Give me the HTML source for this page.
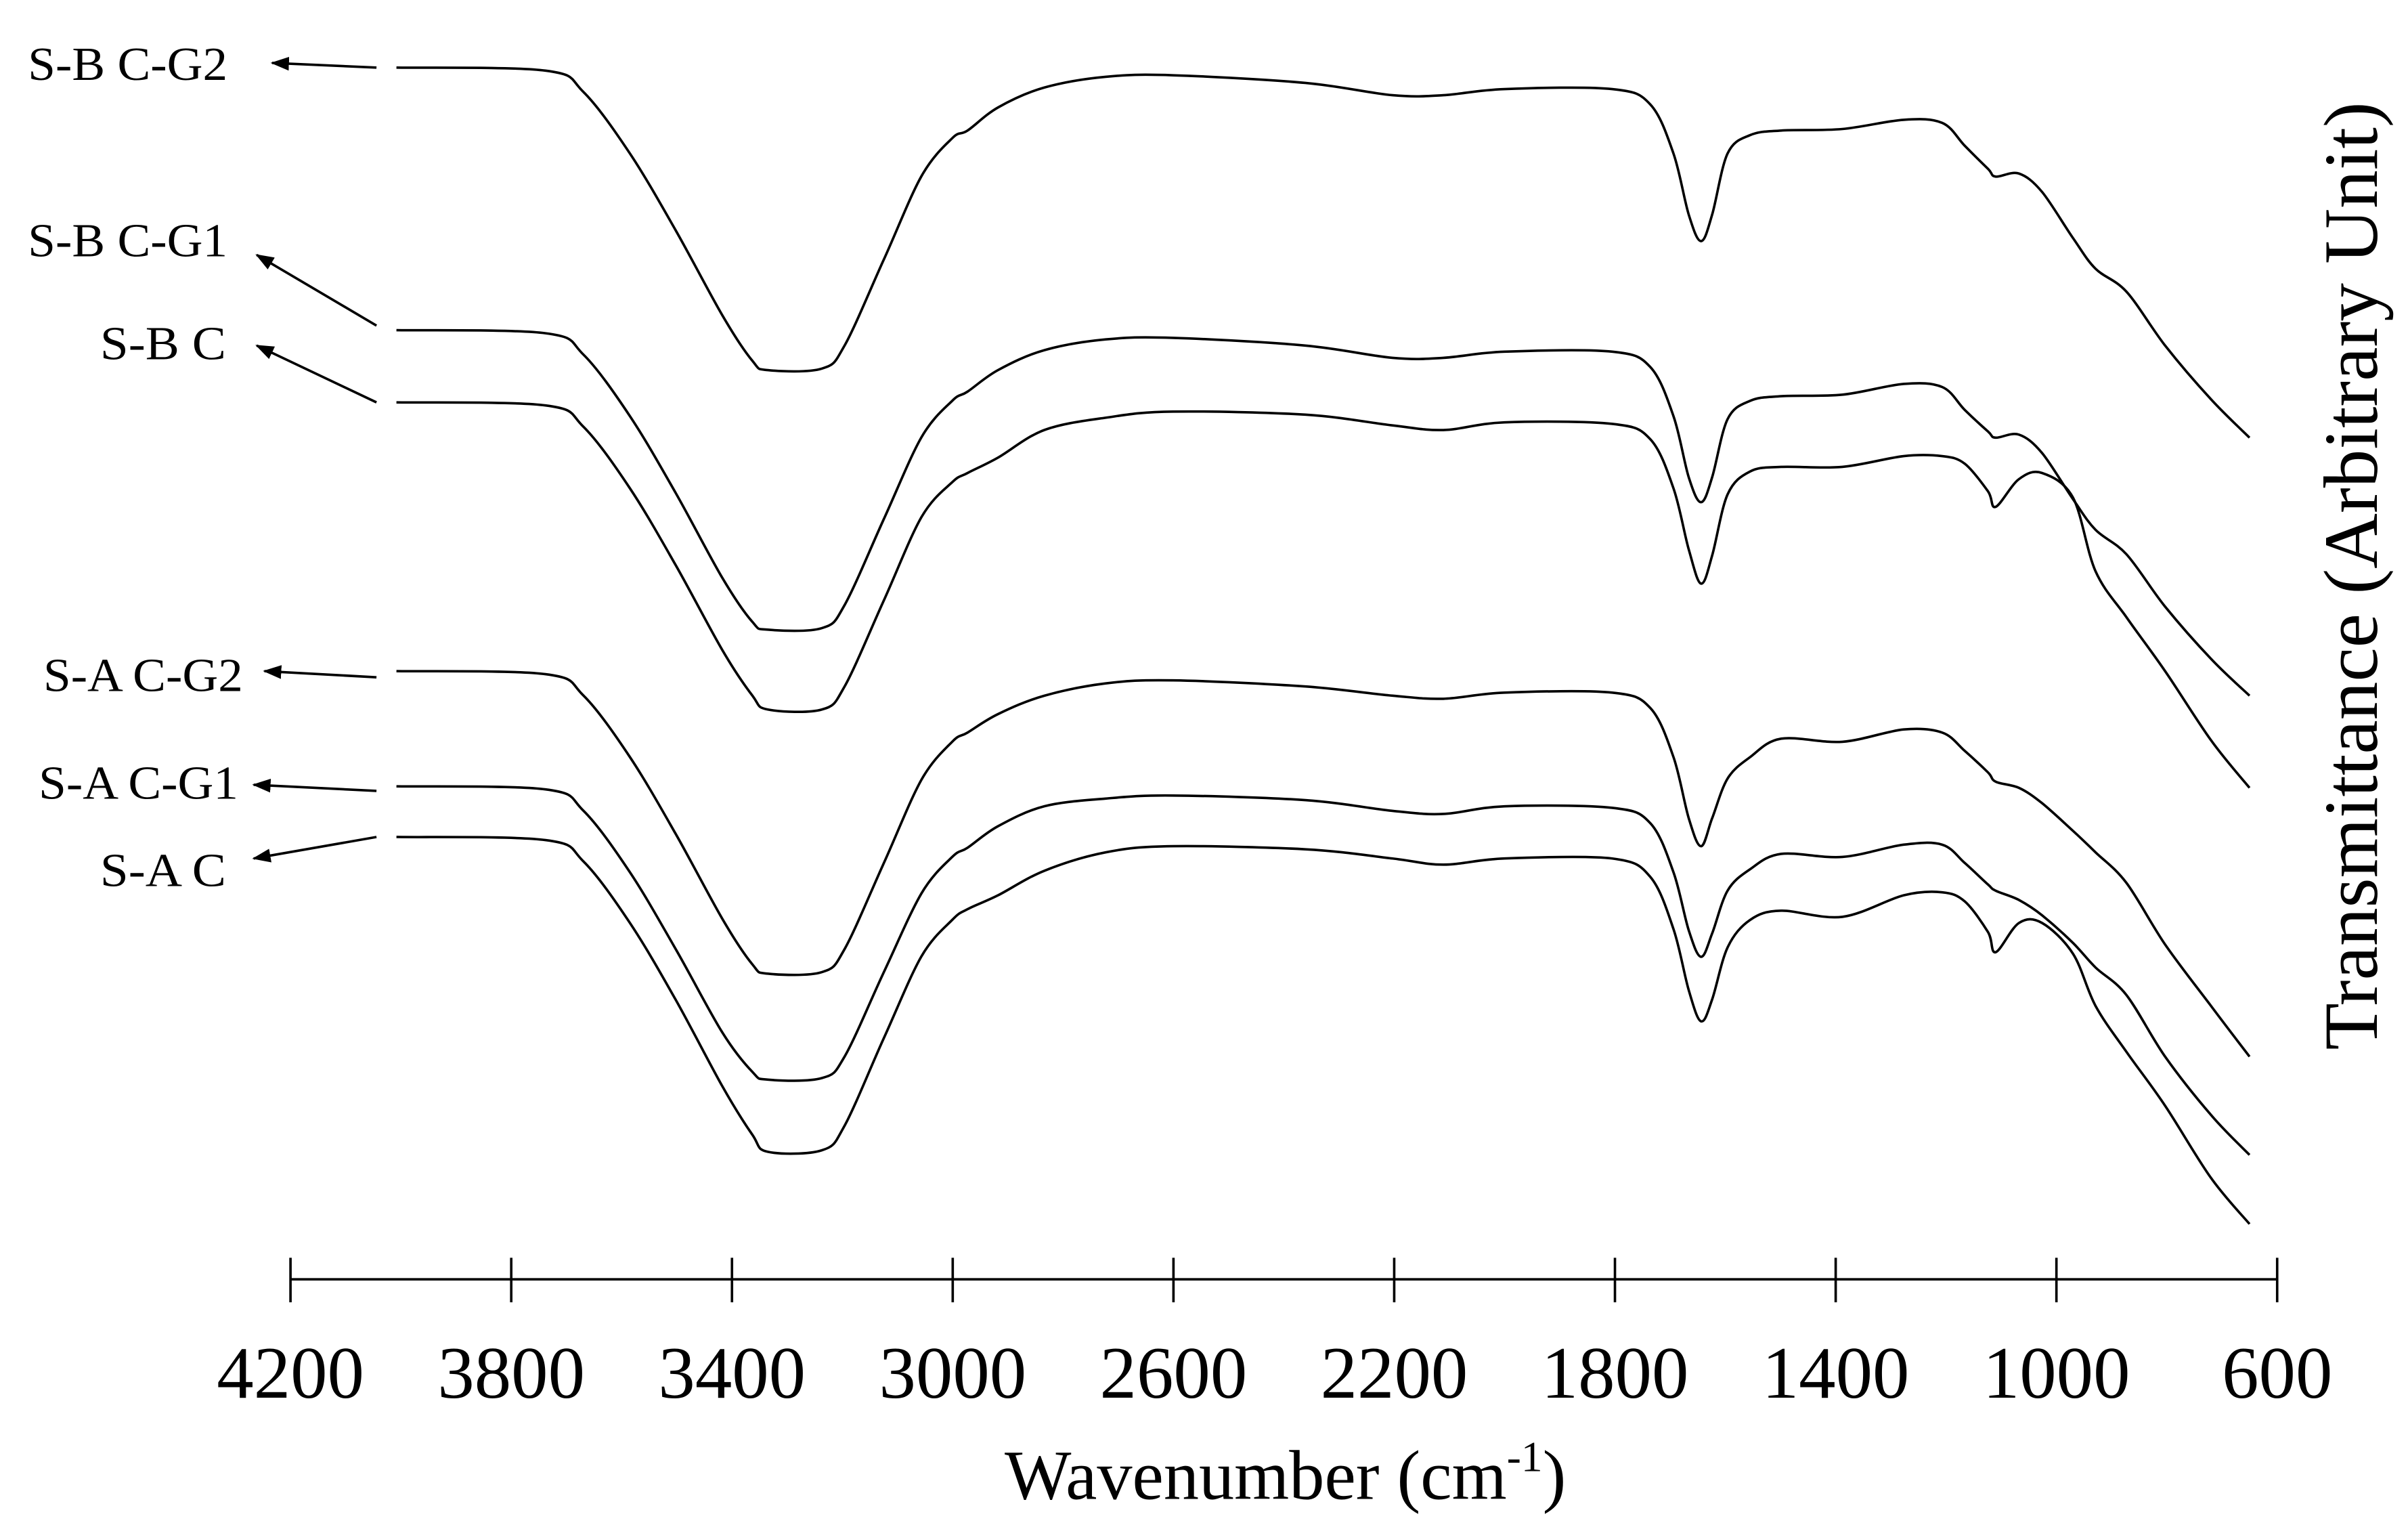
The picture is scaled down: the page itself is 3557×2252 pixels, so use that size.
<!DOCTYPE html>
<html><head><meta charset="utf-8"><style>
html,body{margin:0;padding:0;background:#fff}
svg{display:block}
text{font-family:"Liberation Serif",serif;fill:#000}
</style></head><body>
<svg id="chart" width="3557" height="2252" viewBox="0 0 1568 993" xmlns="http://www.w3.org/2000/svg">
<g id="axis"></g>
<g id="series"></g>
<g id="labels"></g>
<text x="837" y="976" font-size="46" text-anchor="middle">Wavenumber (cm<tspan font-size="28" dy="-18">-1</tspan><tspan dy="18">)</tspan></text>
<text transform="translate(1548,375) rotate(-90)" font-size="50" text-anchor="middle">Transmittance (Arbitrary Unit)</text>
</svg>
<script>
const ticks = [4200,3800,3400,3000,2600,2200,1800,1400,1000,600];
const wn = [4008,3738,3669,3585,3502,3418,3363,3335,3237,3196,3126,3057,3001,2973,2918,2834,2723,2601,2361,2203,2111,2000,1805,1736,1694,1666,1644,1624,1596,1555,1499,1388,1277,1207,1166,1124,1110,1068,1026,970,929,873,803,720,650];
const names = ["S-B C-G2","S-B C-G1","S-B C","S-A C-G2","S-A C-G1","S-A C"];
const offsets = [0,171,218,393,468,501];
const sBCG2 = [0,2,16,56,106,161,191,197,196,181,126,71,46,41,26,13,6,5,10,18,18,14,14,24,56,96,113,96,56,44,41,40,34,36,51,66,71,69,81,111,131,146,181,216,241];
const sBCG1 = [0,2,16,56,106,161,190,195,194,179,124,70,46,40,26,13,6,5,10,18,18,14,14,24,56,96,112,96,58,46,43,42,35,37,52,66,70,68,80,110,130,146,180,214,238];
const sBC = [0,2,16,56,106,161,191,200,200,185,130,75,52,46,36,18,10,6,8,15,18,13,14,24,56,96,118,100,60,45,42,42,35,35,40,58,68,50,46,62,110,140,175,220,251];
const sACG2 = [0,2,16,56,106,161,191,197,196,181,126,71,46,40,28,16,8,6,10,16,18,14,14,24,56,96,114,96,70,56,44,46,38,40,52,66,72,76,86,104,118,138,178,218,251];
const sACG1 = [0,2,16,56,106,160,186,191,190,176,122,70,46,40,26,13,8,6,9,16,18,13,14,24,56,94,111,96,68,54,44,46,38,38,50,64,68,74,84,102,118,136,176,214,240];
const sAC = [0,2,16,56,106,162,194,205,204,188,132,78,54,47,38,22,10,6,8,14,18,14,14,26,60,100,120,106,72,54,48,52,38,36,42,62,75,56,56,76,110,140,175,222,252];
const allSeries = [sBCG2,sBCG1,sBC,sACG2,sACG1,sAC];
const NS="http://www.w3.org/2000/svg";
const xs = w => 189 + (4200 - w) / 3600 * 1294;
const ys = v => 44 + v;
const ax=document.getElementById('axis');
function mk(t,a,p){const e=document.createElementNS(NS,t);for(const k in a)e.setAttribute(k,a[k]);p.appendChild(e);return e;}
let l=mk('line',{x1:189,x2:1483,y1:833,y2:833,stroke:'#000','stroke-width':1.6},ax);


ticks.forEach(t=>{
  const tl=mk('line',{x1:xs(t),x2:xs(t),y1:819,y2:848,stroke:'#000','stroke-width':1.6},ax);
  
  
  const tx=mk('text',{x:xs(t),y:910,'font-size':48,'text-anchor':'middle'},ax);
  tx.textContent=t;
  
  
});
function smooth(pts){
  let d='M'+pts[0][0].toFixed(1)+','+pts[0][1].toFixed(1);
  for(let i=0;i<pts.length-1;i++){
    const p0=pts[Math.max(0,i-1)],p1=pts[i],p2=pts[i+1],p3=pts[Math.min(pts.length-1,i+2)];
    const c1=[p1[0]+(p2[0]-p0[0])/6,p1[1]+(p2[1]-p0[1])/6];
    const c2=[p2[0]-(p3[0]-p1[0])/6,p2[1]-(p3[1]-p1[1])/6];
    d+='C'+c1[0].toFixed(1)+','+c1[1].toFixed(1)+' '+c2[0].toFixed(1)+','+c2[1].toFixed(1)+' '+p2[0].toFixed(1)+','+p2[1].toFixed(1);
  }
  return d;
}
const sg=document.getElementById('series');
allSeries.forEach((s,i)=>{
  const pts=s.map((v,j)=>[xs(wn[j]),ys(v+offsets[i])]);
  const p=mk('path',{d:smooth(pts),fill:'none',stroke:'#000','stroke-width':1.6,'stroke-linejoin':'round'},sg);
  
  
});
const lab=[[18,52,245,44,177,41],[18,167,245,212,167,166],[65,234,245,262,167,225],[28,450,245,441,172,437],[25,520,245,515,165,511],[65,577,245,545,165,559]];
const lg=document.getElementById('labels');
mk('defs',{},lg).innerHTML='<marker id="ah" markerWidth="12" markerHeight="9" refX="11" refY="4.5" orient="auto" markerUnits="userSpaceOnUse"><path d="M0,0 L12,4.5 L0,9 Z" fill="#000"/></marker>';
lab.forEach((a,i)=>{
  const t=mk('text',{x:a[0],y:a[1],'font-size':31,textLength:(names[i].length>5?130:82),lengthAdjust:'spacingAndGlyphs'},lg);
  t.textContent=names[i];
  
  
  const ar=mk('line',{x1:a[2],y1:a[3],x2:a[4],y2:a[5],stroke:'#000','stroke-width':1.6,'marker-end':'url(#ah)'},lg);
  
  
});
</script>
</body></html>
